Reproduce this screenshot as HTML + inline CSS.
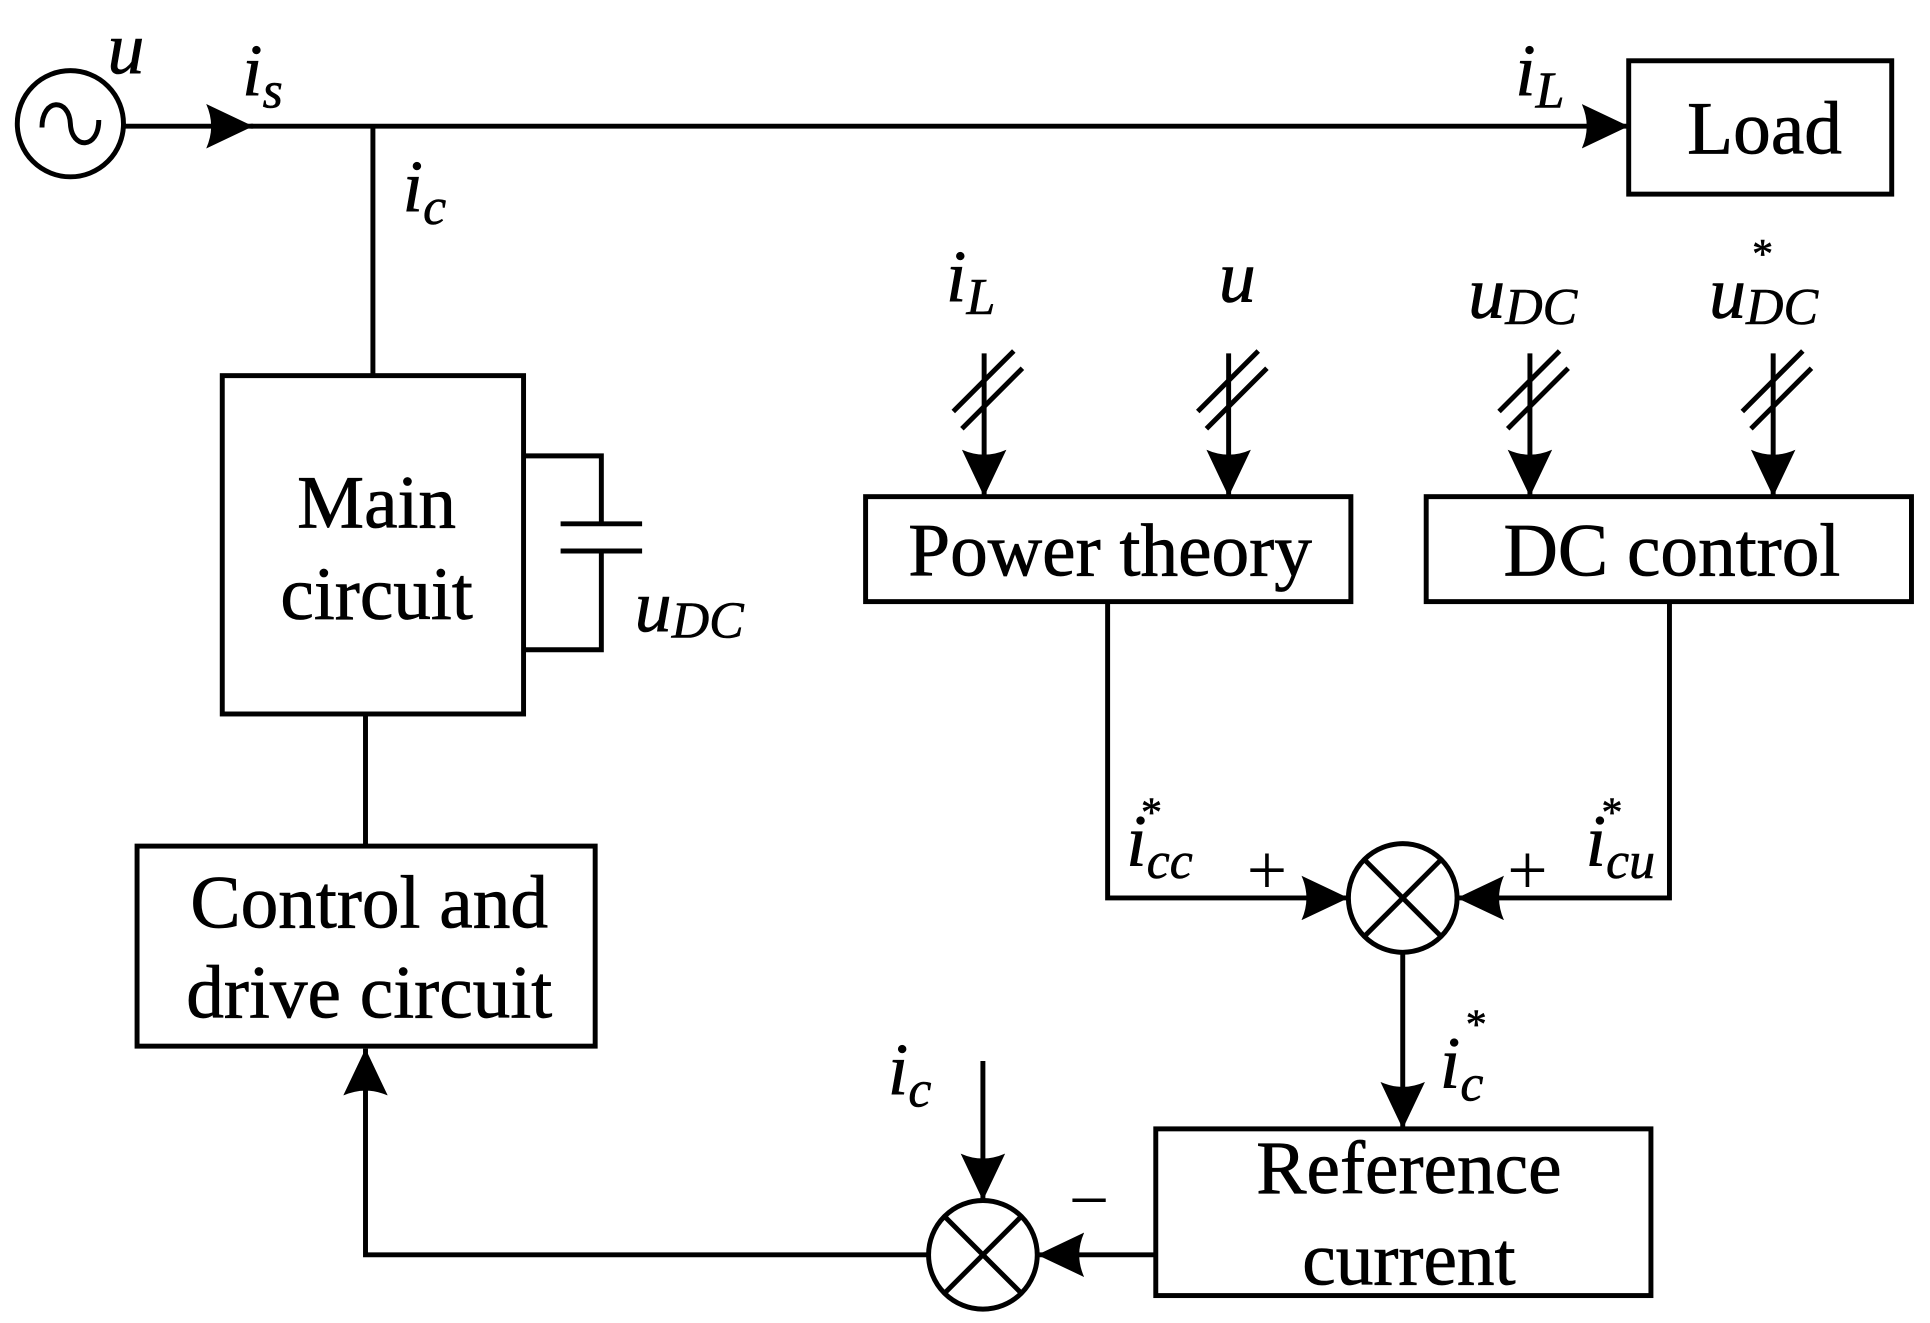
<!DOCTYPE html>
<html><head><meta charset="utf-8"><style>html,body{margin:0;padding:0;background:#fff}svg{display:block}</style></head>
<body>
<svg width="1930" height="1323" viewBox="0 0 1563 1071" xmlns="http://www.w3.org/2000/svg">
<defs>
<marker id="a" markerWidth="40" markerHeight="36" refX="38" refY="18" orient="auto" markerUnits="userSpaceOnUse">
<path d="M0,0 Q8,18 0,36 L38,18 Z" fill="#000"/>
</marker>
</defs>
<g transform="translate(-1,-1)">
<g stroke="#000" stroke-width="4" fill="none">
<circle cx="58" cy="101" r="43"/>
<path d="M35,104 C35,80 57,80 58,101 C59,122 81,122 81,98"/>
<line x1="101" y1="103" x2="206" y2="103" marker-end="url(#a)"/>
<line x1="204" y1="103" x2="1320" y2="103" marker-end="url(#a)"/>
<rect x="1320" y="50" width="213" height="108"/>
<line x1="303" y1="103" x2="303" y2="305"/>
<rect x="181" y="305" width="244" height="274"/>
<polyline points="425,370 488,370 488,425"/>
<line x1="455" y1="425" x2="521" y2="425"/>
<line x1="455" y1="447" x2="521" y2="447"/>
<polyline points="488,447 488,527 425,527"/>
<line x1="297" y1="579" x2="297" y2="686"/>
<rect x="112" y="686" width="371" height="162"/>
<polyline points="753,1017 297,1017 297,850" marker-end="url(#a)"/>
<circle cx="797" cy="1017" r="44"/>
<line x1="766" y1="986" x2="828" y2="1048"/><line x1="828" y1="986" x2="766" y2="1048"/>
<line x1="797" y1="860" x2="797" y2="973" marker-end="url(#a)"/>
<rect x="937" y="915" width="401" height="135"/>
<line x1="937" y1="1017" x2="841" y2="1017" marker-end="url(#a)"/>
<circle cx="1137" cy="728" r="44"/>
<line x1="1106" y1="697" x2="1168" y2="759"/><line x1="1168" y1="697" x2="1106" y2="759"/>
<line x1="1137" y1="772" x2="1137" y2="915" marker-end="url(#a)"/>
<rect x="702" y="403" width="393" height="85"/>
<rect x="1156" y="403" width="393" height="85"/>
<polyline points="898,488 898,728 1093,728" marker-end="url(#a)"/>
<polyline points="1353,488 1353,728 1181,728" marker-end="url(#a)"/>
<g id="in">
<line x1="798" y1="287" x2="798" y2="403" marker-end="url(#a)"/>
<line x1="773" y1="334" x2="822" y2="285"/>
<line x1="780" y1="348" x2="829" y2="299"/>
</g>
<use href="#in" x="198"/>
<use href="#in" x="442"/>
<use href="#in" x="639"/>
</g>
<g font-family="Liberation Serif, serif" font-size="61" fill="#000" stroke="#000" stroke-width="0.6" text-anchor="middle">
<text x="1430" y="125">Load</text>
<text x="306" y="428">Main</text>
<text x="306" y="502">circuit</text>
<text x="300" y="752">Control and</text>
<text x="300" y="825">drive circuit</text>
<text x="900" y="467">Power theory</text>
<text x="1355" y="467">DC control</text>
<text x="1142" y="967">Reference</text>
<text x="1142" y="1041">current</text>
<text x="1027" y="725" font-size="58" stroke-width="0">+</text>
<text x="1238" y="725" font-size="58" stroke-width="0">+</text>
<text x="883" y="992" font-size="58" stroke-width="0">−</text>
</g>
<g font-family="Liberation Serif, serif" font-style="italic" font-size="60" fill="#000" stroke="#000" stroke-width="0.5">
<text x="88" y="60">u</text>
<text x="197" y="78">i<tspan font-size="42" dy="10">s</tspan></text>
<text x="1228" y="78">i<tspan font-size="42" dy="10">L</tspan></text>
<text x="327" y="172">i<tspan font-size="42" dy="10">c</tspan></text>
<text x="767" y="245">i<tspan font-size="42" dy="10">L</tspan></text>
<text x="988" y="245">u</text>
<text x="1190" y="258">u<tspan font-size="42" dy="5">DC</tspan></text>
<text x="1385" y="258">u<tspan font-size="42" dy="5">DC</tspan></text>
<text x="1420" y="218" font-size="34" font-style="normal">*</text>
<text x="515" y="512">u<tspan font-size="42" dy="5">DC</tspan></text>
<text x="913" y="702">i<tspan font-size="42" dy="10">cc</tspan></text>
<text x="925" y="670" font-size="34" font-style="normal">*</text>
<text x="1285" y="702">i<tspan font-size="42" dy="10">cu</tspan></text>
<text x="1298" y="670" font-size="34" font-style="normal">*</text>
<text x="1167" y="882">i<tspan font-size="42" dy="10">c</tspan></text>
<text x="1188" y="842" font-size="34" font-style="normal">*</text>
<text x="720" y="887">i<tspan font-size="42" dy="10">c</tspan></text>
</g>
</g>
</svg>
</body></html>
